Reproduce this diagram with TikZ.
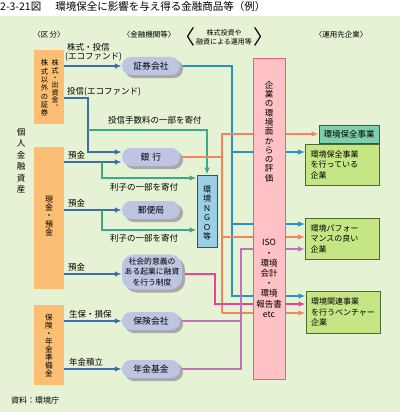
\documentclass[tikz,border=0pt]{standalone}
\usepackage{fontspec}
\setmainfont{Noto Sans CJK JP}
\usetikzlibrary{arrows.meta,shadows,calc}
\newcommand\myfs[2]{\fontsize{#1}{#2}\selectfont}
\definecolor{bgc}{HTML}{E5F2D3}
\definecolor{orangec}{HTML}{FBBE72}
\definecolor{pillc}{HTML}{BDC5E3}
\definecolor{shadowc}{HTML}{A9A9A9}
\definecolor{ngoc}{HTML}{9BCFE5}
\definecolor{ngob}{HTML}{3D4E5C}
\definecolor{pinkc}{HTML}{FFC1C5}
\definecolor{pinkb}{HTML}{EE5C7E}
\definecolor{tbc}{HTML}{7FCFAE}
\definecolor{tbb}{HTML}{2E5D4A}
\definecolor{grc}{HTML}{C6E584}
\definecolor{grb}{HTML}{4E6B2E}
\definecolor{bluL}{HTML}{3D6DB5}
\definecolor{tealL}{HTML}{3BAA8A}
\definecolor{bluR}{HTML}{2A8ECF}
\definecolor{salm}{HTML}{F5835D}
\definecolor{mag}{HTML}{EC4399}
\definecolor{purp}{HTML}{BF72BC}
\pgfdeclarelayer{back}
\pgfdeclarelayer{lines}
\pgfsetlayers{back,lines,main}
\begin{document}
\begin{tikzpicture}[x=1pt,y=-1pt,
  cat/.style={fill=orangec,draw=none,minimum width=30pt,inner sep=0pt},
  vtext/.style={align=center,inner sep=0pt},
  pill/.style={fill=pillc,rounded corners=9pt,minimum width=58pt,minimum height=18pt,inner sep=0pt,
    drop shadow={shadow xshift=3pt,shadow yshift=-3pt,fill=shadowc,opacity=1},font=\myfs{8.8}{10}},
  lbl/.style={anchor=west,inner sep=0pt,font=\myfs{8.5}{10}},
  hdr/.style={inner sep=0pt,font=\myfs{7.5}{9}},
  rbox/.style={fill=grc,draw=grb,line width=0.9pt,minimum width=74pt,text width=64pt,inner xsep=5pt,align=left,font=\myfs{8}{10.5}},
  ln/.style={line width=1.5pt},
  arr/.style={line width=1.5pt,-{Latex[length=7pt,width=5.5pt]}}]
\useasboundingbox (0,0) rectangle (400,412);
\begin{pgfonlayer}{back}
\fill[white] (0,0) rectangle (400,16);
\fill[bgc] (0,16) rectangle (400,412);
\end{pgfonlayer}
% title
\node[anchor=west,inner sep=0pt,font=\myfs{10.5}{12}] (title) at (0,7) {2-3-21図\hspace{14pt}環境保全に影響を与え得る金融商品等（例）};
% headers
\node[hdr] (h1) at (49,35) {〈区\,分〉};
\node[hdr] (h2) at (149,35) {〈金融機関等〉};
\node[hdr,font=\myfs{7}{9},align=center] (h3) at (224,37) {株式投資や\\融資による運用等};
\node[inner sep=0pt,font=\myfs{20}{20}] (h3l) at (185,37) {〈};
\node[inner sep=0pt,font=\myfs{20}{20}] (h3r) at (263,37) {〉};
\node[hdr] (h4) at (341,35) {〈運用先企業〉};
% left vertical label
\node[vtext,font=\myfs{8.5}{11.5}] (kojin) at (21,161) {個\\人\\金\\融\\資\\産};
% category boxes
\node[cat,minimum height=74pt] (c1) at (49,87) {};
\node[vtext,font=\myfs{7.3}{8.3}] (c1L) at (44.5,88) {株\\式\\以\\外\\の\\証\\券};
\node[vtext,font=\myfs{7}{7.4}] (c1R) at (55,85) {株\\式\\・\\出\\資\\金\\︑};
\node[cat,minimum height=142pt] (c2) at (49,218) {};
\node[vtext,font=\myfs{8}{8.4}] (c2t) at (49,216) {現\\金\\・\\預\\金};
\node[cat,minimum height=80pt] (c3) at (49,345) {};
\node[vtext,font=\myfs{7.6}{8}] (c3t) at (49,345) {保\\険\\・\\年\\金\\準\\備\\金};
% pills
\node[pill] (p1) at (151,66) {証券会社};
\node[pill] (p2) at (151,157) {銀\,\,行};
\node[pill] (p3) at (151,210) {郵便局};
\node[pill,minimum width=60pt,minimum height=35pt,rounded corners=12pt,align=center,font=\myfs{7.8}{10.5}] (p4) at (152,272) {社会的意義の\\ある起業に融資\\を行う制度};
\node[pill] (p5) at (151,321) {保険会社};
\node[pill] (p6) at (151,369) {年金基金};
% NGO
\node[fill=ngoc,draw=ngob,line width=0.8pt,minimum width=20pt,minimum height=72pt,inner sep=0pt] (ngo) at (207,211) {};
\node[vtext,font=\myfs{8}{9.4}] (ngot) at (207,213) {環\\境\\Ｎ\\Ｇ\\Ｏ\\等};
% evaluation box
\node[fill=pinkc,draw=pinkb,line width=1pt,minimum width=32pt,minimum height=320pt,inner sep=0pt] (eval) at (269,219) {};
\node[vtext,font=\myfs{8.5}{9.3}] (evalA) at (269,131.5) {企\\業\\の\\環\\境\\面\\か\\ら\\の\\評\\価};
\node[vtext,font=\myfs{8.5}{10.2}] (evalB) at (269,278.5) {ISO\\・\\環境\\会計\\・\\環境\\報告書\\etc};
% right boxes
\node[fill=tbc,draw=tbb,line width=0.9pt,minimum width=60pt,minimum height=18pt,inner sep=0pt,font=\myfs{8.5}{10}] (r1) at (349,134) {環境保全事業};
\node[rbox,minimum height=41pt] (r2) at (342.5,164.5) {環境保全事業\\を行っている\\企業};
\node[rbox,minimum height=41pt] (r3) at (342.5,238.5) {環境パフォー\\マンスの良い\\企業};
\node[rbox,minimum height=42pt] (r4) at (343,312) {環境関連事業\\を行うベンチャー\\企業};
% labels
\node[lbl] (l1a) at (67,47) {株式・投信};
\node[lbl] (l1b) at (65,57) {(エコファンド)};
\node[lbl] (l2) at (67,92) {投信(エコファンド)};
\node[lbl] (l3) at (108,120) {投信手数料の一部を寄付};
\node[lbl] (l4) at (68,155) {預金};
\node[lbl] (l5) at (110,187) {利子の一部を寄付};
\node[lbl] (l6) at (68,203) {預金};
\node[lbl] (l7) at (110,238) {利子の一部を寄付};
\node[lbl] (l8) at (68,267) {預金};
\node[lbl] (l9) at (69,314) {生保・損保};
\node[lbl] (l10) at (69,362) {年金積立};
\node[anchor=west,inner sep=0pt,font=\myfs{8}{10}] (src) at (11,400) {資料：環境庁};
% junctions
\coordinate (j1) at (88,98);
\coordinate (j2) at (88,152);
\coordinate (jt) at (88,130);
\coordinate (jk1) at (102,162);
\coordinate (jk2) at (102,210);
\coordinate (jb0) at (232,66);
\coordinate (jb1) at (232,152);
\coordinate (jb2) at (232,224);
\coordinate (jb3) at (232,296);
\coordinate (js0) at (222,157);
\coordinate (js1) at (222,134);
\coordinate (js2) at (222,237);
\coordinate (js3) at (222,313);
\coordinate (jm1) at (215,274);
\coordinate (jm2) at (215,304);
\coordinate (jp1) at (241,249);
\coordinate (jp2) at (241,369);
\begin{pgfonlayer}{lines}
% left blue arrows
\draw[arr,bluL] (c1.east |- p1.west) -- (p1.west);
\draw[arr,bluL] (c1.east |- j1) -- (j1) -- (j2) -- (p2.west |- j2);
\draw[arr,bluL] (c2.east |- jk1) -- (p2.west |- jk1);
\draw[arr,bluL] (c2.east |- p3.west) -- (p3.west);
\draw[arr,bluL] (c2.east |- jm1) -- (p4.west |- jm1);
\draw[arr,bluL] (c3.east |- p5.west) -- (p5.west);
\draw[arr,bluL] (c3.east |- p6.west) -- (p6.west);
% teal donations
\draw[arr,tealL] (jt) -| (ngo.north);
\draw[arr,tealL] (jk1) |- (ngo.west |- 0,178);
\draw[arr,tealL] (jk2) |- (ngo.west |- 0,230);
% right blue
\draw[arr,bluR] (p1.east) -- (jb0) -- (jb3) -- (r4.west |- jb3);
\draw[arr,bluR] (jb1) -- (r2.west |- jb1);
\draw[arr,bluR] (jb2) -- (r3.west |- jb2);
% salmon
\draw[ln,salm] (p2.east) -- (js0);
\draw[arr,salm] (js3) -- (js1) -- (r1.west |- js1);
\draw[arr,salm] (js2) -- (r3.west |- js2);
\draw[arr,salm] (js3) -- (r4.west |- js3);
% magenta
\draw[arr,mag] (p4.east |- jm1) -- (jm1) -- (jm2) -- (r4.west |- jm2);
% purple
\draw[ln,purp] (p5.east) -- (p5.east -| jp1);
\draw[arr,purp] (p6.east) -- (jp2) -- (jp1) -- (r3.west |- jp1);
\end{pgfonlayer}
\end{tikzpicture}
\end{document}
